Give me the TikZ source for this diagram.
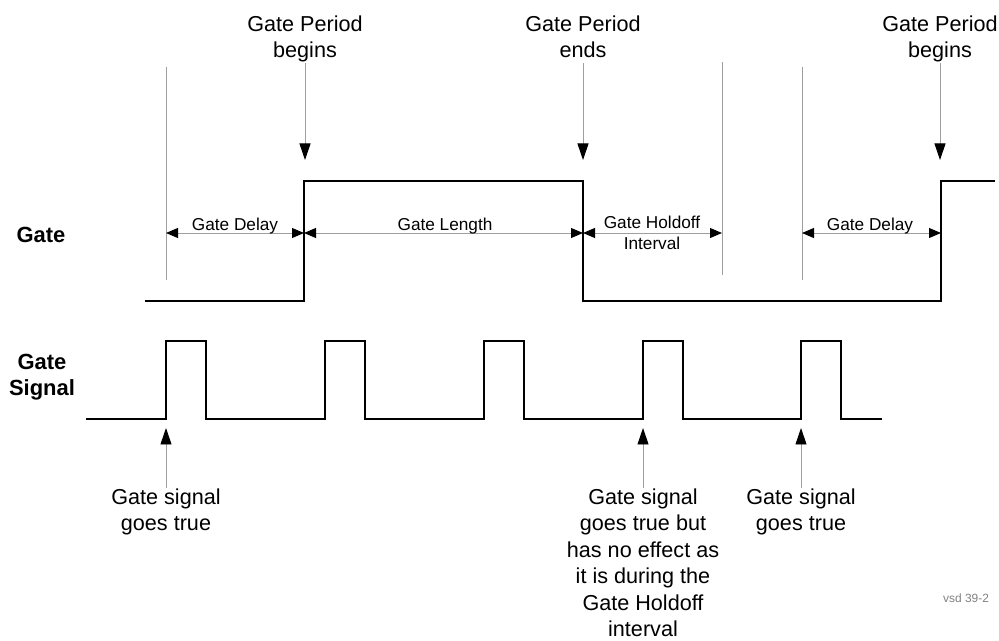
\documentclass[tikz,border=0pt]{standalone}
\usepackage{fontspec}
\setmainfont{Liberation Sans}
\usetikzlibrary{arrows.meta}
\tikzset{
  wave/.style    = {line width=1.3pt,line join=miter},
  guide/.style   = {gray!75,line width=0.55pt},
  dimarr/.style  = {{Triangle[length=2.4mm,width=2.0mm,color=black]}-{Triangle[length=2.4mm,width=2.0mm,color=black]},gray!75,line width=0.55pt},
  ptrarr/.style  = {-{Triangle[length=3.3mm,width=2.2mm,color=black]},gray!75,line width=0.55pt},
  lbl/.style     = {font=\fontsize{12.3}{15.1}\selectfont,align=center,inner sep=0pt},
  dimlbl/.style  = {font=\fontsize{9.8}{12}\selectfont,align=center,inner sep=0pt},
  rowlbl/.style  = {font=\fontsize{12.5}{15}\selectfont\bfseries,align=center,inner sep=0pt}
}

\begin{document}
\begin{tikzpicture}[x=0.02cm,y=-0.02cm]
  \useasboundingbox (0,0) rectangle (999,641);

  % row labels
  \node[rowlbl] (gateRow) at (41,235) {Gate};
  \node[rowlbl] (sigRow)  at (42,377) {Gate\\Signal};

  % gate waveform
  \draw[wave] (145,301) -- (304,301) -- (304,181) -- (583,181) -- (583,301)
              -- (941,301) -- (941,181) -- (995,181);

  % gate signal pulses
  \draw[wave] (86,419) foreach \s in {166,325,484,643,801} {
      -- (\s,419) -- (\s,341) -- (\s+40,341) -- (\s+40,419) } -- (882,419);

  % guide lines
  \draw[guide] (166,67) -- (166,280);
  \draw[guide] (722,62) -- (722,275);
  \draw[guide] (802,67) -- (802,280);

  % dimension ends
  \coordinate (dA) at (166,233);
  \coordinate (dB) at (304,233);
  \coordinate (dC) at (583,233);
  \coordinate (dD) at (722,233);
  \coordinate (dE) at (802,233);
  \coordinate (dF) at (941,233);

  \draw[dimarr] (dA) -- (dB);
  \draw[dimarr] (dB) -- (dC);
  \draw[dimarr] (dC) -- (dD);
  \draw[dimarr] (dE) -- (dF);

  \node[dimlbl,anchor=base] (lDelayA) at (235,231) {Gate Delay};
  \node[dimlbl,anchor=base] (lLength) at (445,231) {Gate Length};
  \node[dimlbl] (lHold) at (652,233) {Gate Holdoff\\Interval};
  \node[dimlbl,anchor=base] (lDelayB) at (870,231) {Gate Delay};

  % period markers
  \node[lbl,anchor=north] (pBegA) at (305,15) {Gate Period\\begins};
  \node[lbl,anchor=north] (pEnd)  at (583,15) {Gate Period\\ends};
  \node[lbl,anchor=north] (pBegB) at (940,15) {Gate Period\\begins};
  \coordinate (tBegA) at (305,160);
  \coordinate (tEnd)  at (583,160);
  \coordinate (tBegB) at (940,160);
  \draw[ptrarr] (pBegA.south |- 0,63) -- (tBegA);
  \draw[ptrarr] (pEnd.south |- 0,63)  -- (tEnd);
  \draw[ptrarr] (pBegB.south |- 0,63) -- (tBegB);

  % trigger notes
  \node[lbl,anchor=north] (gsTrueA) at (166,488) {Gate signal\\goes true};
  \node[lbl,anchor=north] (gsHold)  at (643,488) {Gate signal\\goes true but\\has no effect as\\it is during the\\Gate Holdoff\\interval};
  \node[lbl,anchor=north] (gsTrueB) at (801,488) {Gate signal\\goes true};
  \coordinate (sA) at (166,428);
  \coordinate (sB) at (643,428);
  \coordinate (sC) at (801,428);
  \draw[ptrarr] (gsTrueA) -- (sA);
  \draw[ptrarr] (gsHold)  -- (sB);
  \draw[ptrarr] (gsTrueB) -- (sC);

  \node[font=\fontsize{6.8}{8}\selectfont,text=gray,inner sep=0pt] (vsd) at (966,598) {vsd 39-2};
\end{tikzpicture}
\end{document}
